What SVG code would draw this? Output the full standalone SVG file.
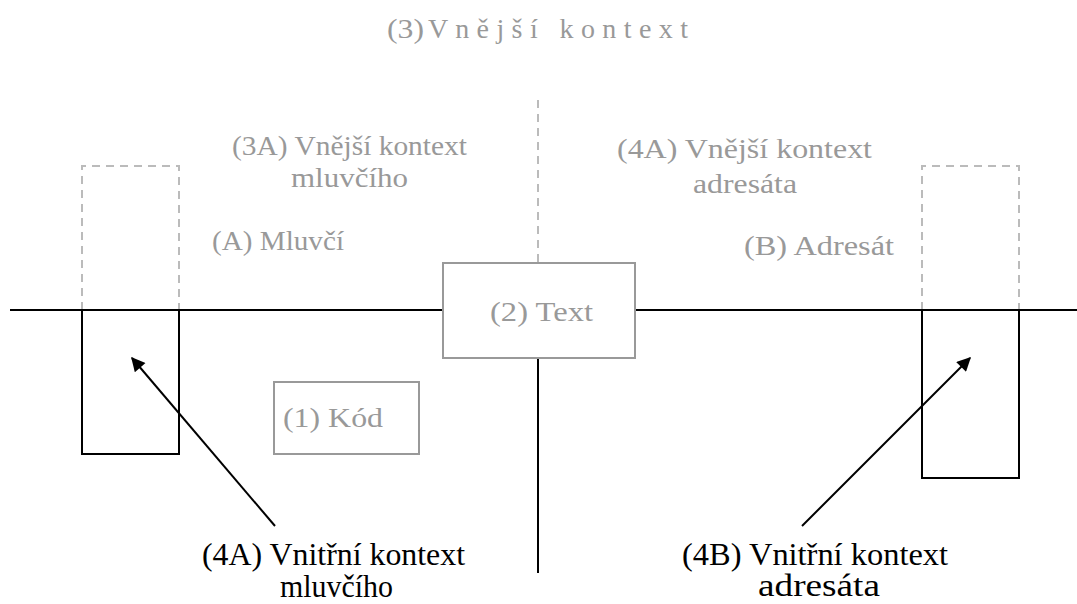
<svg xmlns="http://www.w3.org/2000/svg" width="1077" height="604" viewBox="0 0 1077 604">
  <style>
    text { font-family: 'Liberation Serif', 'Times New Roman', serif; }
    .lbl { fill: #999999; font-size: 28px; }
    .blk { fill: #000000; font-size: 31px; }
    .solid { fill: none; stroke: #000000; stroke-width: 2; }
    .dash { fill: none; stroke: #bbbbbb; stroke-width: 2; stroke-dasharray: 8 6; }
    .grey { fill: #ffffff; stroke: #999999; stroke-width: 2; }
  </style>
  <defs>
    <marker id="arrow" viewBox="0 0 10 10" refX="9" refY="5" markerWidth="8" markerHeight="7" markerUnits="strokeWidth" orient="auto">
      <path d="M0,0 L10,5 L0,10 z" fill="#000000"/>
    </marker>
  </defs>
  <rect width="1077" height="604" fill="#ffffff"/>

  <!-- title: outer context -->
  <g id="outer-context">
    <text class="lbl" y="38" font-size="27"><tspan x="387" textLength="37" lengthAdjust="spacingAndGlyphs">(3)</tspan><tspan x="428" textLength="260" lengthAdjust="spacing" style="white-space:pre">V n ě j š í   k o n t e x t</tspan></text>
  </g>

  <!-- axes and the boundary lines -->
  <g id="connectors">
    <line class="solid" x1="10" y1="310" x2="443" y2="310"/>
    <line class="solid" x1="635" y1="310" x2="1077" y2="310"/>
    <line class="dash" x1="538" y1="100" x2="538" y2="262"/>
    <line class="solid" x1="538" y1="358" x2="538" y2="573"/>
    <line class="solid" x1="275" y1="526" x2="132" y2="358" marker-end="url(#arrow)"/>
    <line class="solid" x1="802" y1="526" x2="970" y2="358" marker-end="url(#arrow)"/>
  </g>

  <!-- speaker side -->
  <g id="speaker-outer">
    <path class="dash" d="M82,310 V166 H179 V310"/>
    <text class="lbl" x="232" y="155" textLength="235" lengthAdjust="spacingAndGlyphs">(3A) Vnější kontext</text>
    <text class="lbl" x="291" y="187" textLength="117" lengthAdjust="spacingAndGlyphs">mluvčího</text>
  </g>
  <g id="speaker">
    <text class="lbl" x="212" y="250" textLength="132" lengthAdjust="spacingAndGlyphs">(A) Mluvčí</text>
  </g>
  <g id="speaker-inner">
    <rect class="solid" x="82" y="310" width="97" height="144"/>
  </g>

  <!-- code -->
  <g id="code">
    <rect class="grey" x="274" y="382" width="145" height="72"/>
    <text class="lbl" x="283" y="427" textLength="100" lengthAdjust="spacingAndGlyphs">(1) Kód</text>
  </g>

  <!-- text -->
  <g id="text">
    <rect class="grey" x="443" y="263" width="192" height="95"/>
    <text class="lbl" x="490" y="321" textLength="103" lengthAdjust="spacingAndGlyphs">(2) Text</text>
  </g>

  <!-- addressee side -->
  <g id="addressee-outer">
    <path class="dash" d="M922,310 V166 H1019 V310"/>
    <text class="lbl" x="617" y="158" textLength="255" lengthAdjust="spacingAndGlyphs">(4A) Vnější kontext</text>
    <text class="lbl" x="693" y="193" textLength="104" lengthAdjust="spacingAndGlyphs">adresáta</text>
  </g>
  <g id="addressee">
    <text class="lbl" x="744" y="255" textLength="150" lengthAdjust="spacingAndGlyphs">(B) Adresát</text>
  </g>
  <g id="addressee-inner">
    <rect class="solid" x="922" y="310" width="97" height="168"/>
  </g>

  <!-- inner context captions -->
  <g id="speaker-inner-label">
    <text class="blk" x="202" y="565" textLength="263" lengthAdjust="spacingAndGlyphs">(4A) Vnitřní kontext</text>
    <text class="blk" x="280" y="597" textLength="113" lengthAdjust="spacingAndGlyphs">mluvčího</text>
  </g>
  <g id="addressee-inner-label">
    <text class="blk" x="682" y="565" textLength="266" lengthAdjust="spacingAndGlyphs">(4B) Vnitřní kontext</text>
    <text class="blk" x="758" y="596" textLength="122" lengthAdjust="spacingAndGlyphs">adresáta</text>
  </g>
</svg>
